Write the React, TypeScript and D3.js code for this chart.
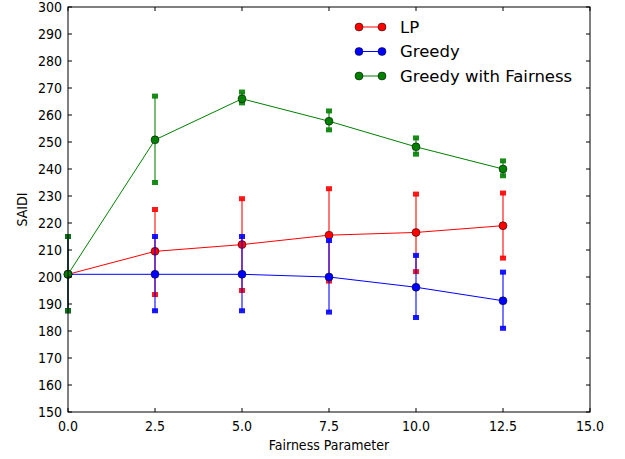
import React from "react";
import * as d3 from "d3";

const xs = [0, 2.5, 5, 7.5, 10, 12.5];
const lpMean = [201, 209.5, 212, 215.5, 216.5, 219];
const lpLow = [187.5, 193.5, 195, 198.5, 202, 207];
const lpHigh = [215, 225, 229, 232.7, 230.7, 231.1];
const greedyMean = [201, 201, 201, 200, 196.2, 191.2];
const greedyLow = [187.5, 187.5, 187.5, 187, 185, 181];
const greedyHigh = [215, 215, 215, 213.5, 208, 201.8];
const fairMean = [201, 250.8, 266, 257.7, 248.2, 240];
const fairLow = [187.5, 235, 264.5, 254.5, 245.5, 237.5];
const fairHigh = [215, 267, 268.5, 261.5, 251.5, 243];
const xTicks = [0, 2.5, 5, 7.5, 10, 12.5, 15];
const yTicks = d3.range(150, 301, 10);

const series = [
  { name: "LP", color: "#ff0000", mean: lpMean, low: lpLow, high: lpHigh },
  { name: "Greedy", color: "#0000ff", mean: greedyMean, low: greedyLow, high: greedyHigh },
  { name: "Greedy with Fairness", color: "#008000", mean: fairMean, low: fairLow, high: fairHigh },
];

const W = 625, H = 459;
const L = 68, R = 590, T = 7, B = 412;

export default function App() {
  const x = d3.scaleLinear().domain([0, 15]).range([L, R]);
  const y = d3.scaleLinear().domain([150, 300]).range([B, T]);
  const font = "'DejaVu Sans Condensed', 'DejaVu Sans', sans-serif";
  const lfont = "'DejaVu Sans', sans-serif";
  return (
    <svg width={W} height={H} style={{ position: "absolute", left: 0, top: 0 }}>
      <rect x={0} y={0} width={W} height={H} fill="#fff" />
      {series.map((s) => {
        const line = d3.line<number>().x((_, i) => x(xs[i])).y((v) => y(v));
        return (
          <g key={s.name}>
            {xs.map((xv, i) => (
              <g key={i}>
                <line x1={x(xv)} x2={x(xv)} y1={y(s.low[i])} y2={y(s.high[i])} stroke={s.color} strokeWidth={1.5} opacity={0.7} />
                <rect x={x(xv) - 3} y={y(s.low[i]) - 2.5} width={6} height={5} fill={s.color} opacity={0.9} />
                <rect x={x(xv) - 3} y={y(s.high[i]) - 2.5} width={6} height={5} fill={s.color} opacity={0.9} />
              </g>
            ))}
            <path d={line(s.mean) || ""} fill="none" stroke={s.color} strokeWidth={1} />
            {xs.map((xv, i) => (
              <circle key={i} cx={x(xv)} cy={y(s.mean[i])} r={4} fill={s.color} stroke="#000" strokeWidth={0.5} />
            ))}
          </g>
        );
      })}
      <rect x={L} y={T} width={R - L} height={B - T} fill="none" stroke="#000" strokeWidth={1} />
      {xTicks.map((t) => (
        <g key={t}>
          <line x1={x(t)} x2={x(t)} y1={B} y2={B - 4} stroke="#000" />
          <line x1={x(t)} x2={x(t)} y1={T} y2={T + 4} stroke="#000" />
          <text x={x(t)} y={B + 19} textAnchor="middle" fontFamily={font} fontSize={14} fill="#000">
            {t.toFixed(1)}
          </text>
        </g>
      ))}
      {yTicks.map((t) => (
        <g key={t}>
          <line x1={L} x2={L + 4} y1={y(t)} y2={y(t)} stroke="#000" />
          <line x1={R} x2={R - 4} y1={y(t)} y2={y(t)} stroke="#000" />
          <text x={L - 6} y={y(t)} dy="0.35em" textAnchor="end" fontFamily={font} fontSize={14} fill="#000">
            {t}
          </text>
        </g>
      ))}
      <text x={(L + R) / 2} y={450} textAnchor="middle" fontFamily={font} fontSize={14} fill="#000">
        Fairness Parameter
      </text>
      <text transform={`translate(26.5,${(T + B) / 2}) rotate(-90)`} textAnchor="middle" fontFamily={font} fontSize={14} fill="#000">
        SAIDI
      </text>
      {series.map((s, i) => {
        const ly = 27 + i * 24.5;
        return (
          <g key={s.name}>
            <line x1={359} x2={382} y1={ly} y2={ly} stroke={s.color} strokeWidth={1} />
            <circle cx={359} cy={ly} r={4} fill={s.color} stroke="#000" strokeWidth={0.5} />
            <circle cx={382} cy={ly} r={4} fill={s.color} stroke="#000" strokeWidth={0.5} />
            <text x={400} y={ly} dy="0.35em" fontFamily={lfont} fontSize={16.5} fill="#000">
              {s.name}
            </text>
          </g>
        );
      })}
    </svg>
  );
}
